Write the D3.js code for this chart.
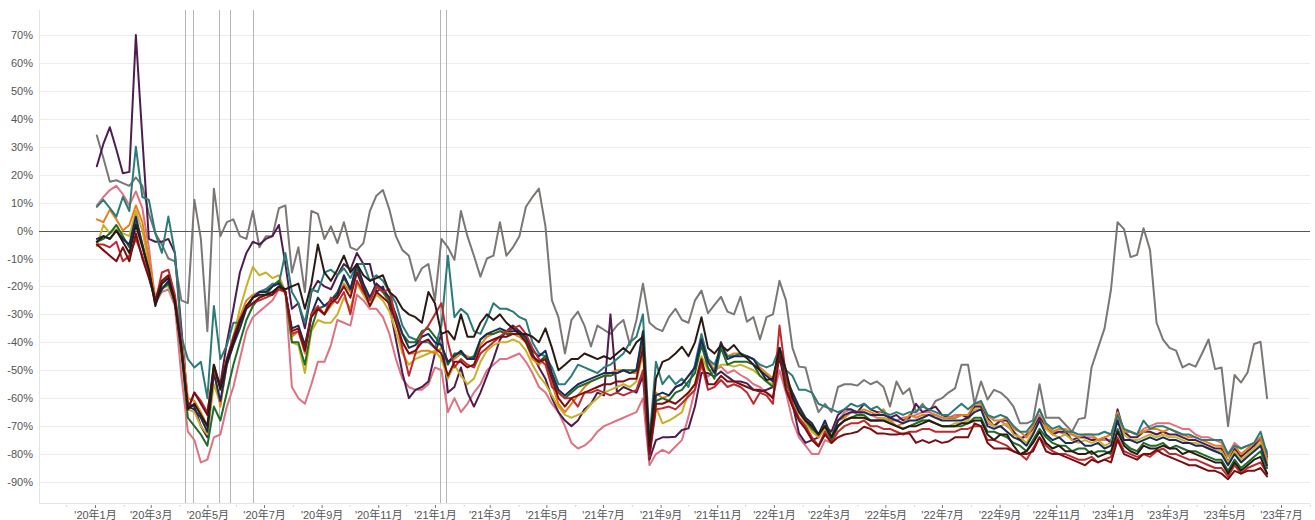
<!doctype html>
<html lang="ja">
<head>
<meta charset="UTF-8">
<title>週次推移</title>
<script src="https://d3js.org/d3.v7.min.js"></script>
<style>
  body { margin: 0; background: #fff; }
  svg { display: block; }
  .axis text { font: 11px "Liberation Sans", Arial, "Noto Sans CJK JP", sans-serif; fill: #555; }
  .grid line { stroke: #ececec; stroke-width: 1; }
  .series { fill: none; stroke-width: 2; stroke-linejoin: round; stroke-linecap: round; }
</style>
</head>
<body>
<svg width="1315" height="520"></svg>
<script>
// weekly values (%), first week starts 2020-01-03
var weekStart = new Date(2020, 0, 3);

var seriesGray = [34, 26, 17.5, 18, 17, 16, 19, 16, 6, -1, -5, -10, -11,
  -25, -26, 11, -3, -36, 15, -2, 3, 4, -2, -3, 7, -6, -2, -2, 8, 9, -15, -6, -22, 7, 6, -3,
  1.5, -4.5, 3, -6, -7, -4.5, 7, 12.5, 14.5, 7.5, -2, -7, -9, -18, -13.5, -12, -25, -3, -6, -10.5, 7, -2, -9, -16.5, -10, -9, 3, -9, -6, -2, 8.5, 12, 15, 1.5, -25, -31, -44, -32, -29, -34, -41.5, -34, -35.5, -37, -34, -32, -41, -32, -19,
  -33, -35, -36, -31, -28, -32, -33, -25, -21.5, -29.6, -26.6, -23.7, -29, -30, -23.7, -32.6, -31, -39, -31, -30, -18, -25,
  -42, -48.7, -49, -58, -65, -62, -65, -56, -55, -55, -55.5, -53.5, -55, -54, -56, -63, -54, -58.5, -56.5, -65, -62, -65, -61, -60, -58, -56.5, -48, -48,
  -62, -54, -60.5, -57, -58, -60, -63, -69, -69, -68, -55, -67, -67, -67, -69.5, -72, -67.5, -67, -49, -42, -35, -21, 3, 0.5, -9.5, -8.7, 0.8, -7, -33, -39, -42, -43, -49, -47.7, -48.7, -44, -39, -49.6, -49, -70, -51.7, -54.4, -50.8, -40.6, -39.8, -60];

var seriesPink = [9, 12, 14.5, 16, 13, 9, 14, 8, -6, -26, -22, -21, -27,
  -52, -72, -75, -83, -82, -74, -73, -63, -56, -46, -36, -31, -29, -27, -25, -21, -22, -56, -60, -62, -55, -47, -47,
  -41, -32, -33, -34, -23, -25, -28, -28, -31, -37, -46, -53, -56, -57, -57, -55, -49, -50, -65, -60, -65, -62, -58, -55, -50, -48, -46, -46, -45, -44, -47, -51, -56, -58, -62, -65, -70, -76, -78, -77, -75, -72, -70, -69, -68, -67, -66, -65, -60,
  -84, -80, -78.5, -79.7, -77.3, -75, -66.6, -57, -48.7, -52.3, -50, -48.7, -51, -50, -51.7, -53, -55, -56, -58, -59.4, -50, -58,
  -68, -74, -77, -80, -80, -75, -76,
  -68, -65, -64, -66, -65, -66, -67, -67, -68, -68, -67, -66.6, -66, -65, -65, -66, -67, -67, -66, -66, -66,
  -63, -63, -69, -70, -68, -70, -72, -74, -74, -71, -66, -71, -72, -72, -73, -73, -74, -74, -74, -75, -75, -75, -67, -72, -72, -73, -71, -70, -69, -69, -69, -70, -71, -71, -73, -74, -74, -75, -76, -80, -76, -78, -77, -77, -75, -79];

var seriesPurple = [23, 31, 37, 29, 20.5, 21, 70, 33, -3, -4, -4, -3, -8,
  -35, -62, -63, -70, -74, -50, -55, -40, -28, -15, -8, -4, -5, -3, -2, 2, -12, -28, -26, -35, -22, -18, -20,
  -21, -16, -12, -14, -8, -12, -12, -22, -20, -27, -39, -51, -60, -57, -56, -54, -44, -37, -58, -56, -49, -58, -63, -58, -52, -46, -39, -36, -34, -36, -39, -44, -49, -53, -60, -65, -68, -70, -68, -64, -62, -58, -59, -30, -58, -56, -57, -58, -52,
  -82, -75, -74, -74, -73.8, -71.4, -70.8, -63, -51, -51, -52.3, -50.5, -52.3, -54, -54, -54.7, -57, -57.6, -57, -56, -44, -55,
  -62, -72.6, -76, -75, -74, -70, -72,
  -66, -64, -64, -65, -62, -64, -65, -65, -67, -66, -68, -67, -62, -65, -64, -63, -66, -67, -67, -66, -67,
  -63, -63, -67, -70, -68, -68, -72, -75, -73, -71, -67, -70, -73, -72, -72, -75, -74, -74, -75, -75, -74, -76, -64, -72, -74, -74, -72, -72, -73, -72, -73, -73, -74, -75, -75, -76, -77, -78, -78, -83, -78, -81, -79, -77, -74, -81];

var seriesYellow = [-5.5, 2, -1, 0.5, -1, -2, 7, 0, -12, -25, -20, -20, -26,
  -40, -64, -65, -70, -73, -55, -62, -48, -38, -28, -20, -13, -16, -15, -17, -16, -22, -40, -41, -51, -36, -32, -33,
  -33, -30, -24, -28, -19, -23, -27, -23, -25, -29, -36, -44, -48, -46, -45, -44, -43, -46, -53, -48, -52, -55, -53, -47, -43, -41, -40, -40, -39, -40, -43, -48, -52, -55, -59, -63, -66, -67, -66, -65, -62, -60, -58, -57, -56, -55, -56, -54, -44,
  -79, -63, -69, -68, -66.6, -65, -58, -55, -45, -50, -50, -48, -48, -48.7, -48, -49, -50, -52, -54, -55, -44, -55,
  -60, -65, -69, -72, -74, -71, -76,
  -70, -68, -67, -67, -67, -68, -68, -67, -69, -70, -71, -70, -69, -68, -68, -69, -70, -70, -69, -69, -68,
  -64, -64, -68, -70, -70, -69, -73, -74, -76, -72, -68, -71, -73, -74, -73, -75, -76, -75, -76, -75, -77, -76, -68, -73, -75, -75, -74, -73, -74, -73, -74, -74, -75, -76, -76, -77, -78, -79, -79, -83, -79, -82, -80, -78, -76, -83];

var seriesOrange = [4, 3, 7.5, 4, 0, 2, 9, 3, -10, -24, -18, -17, -24,
  -38, -60, -61, -65, -70, -50, -63, -47, -38, -31, -25, -23, -22, -21, -20, -18, -22, -38, -36, -44, -30, -28, -30,
  -27, -24, -19, -22, -14, -20, -24, -19, -22, -26, -32, -40, -44, -44, -43, -43, -44, -42, -47, -46, -44, -45, -46, -41, -38, -37, -36, -36, -37, -38, -40, -46, -48, -46, -55, -62, -65, -62, -59, -56, -54, -53, -52, -51, -50, -50, -51, -51, -40,
  -80, -58, -60, -59, -56, -55, -52, -49, -38, -46, -50, -40, -45, -44, -44, -45, -46, -49, -51, -53, -42, -52,
  -58, -63, -67, -70, -74, -69, -74,
  -68, -67, -65, -65, -64, -65, -66, -64, -68, -70, -69, -66, -67, -66, -66, -66, -67, -67, -67, -66, -66,
  -62, -62, -66, -68, -68, -67, -71, -72, -74, -70, -64, -70, -72, -71, -71, -73, -74, -73, -73, -75, -74, -73, -65, -72, -72, -73, -72, -71, -71, -72, -71, -72, -73, -74, -74, -75, -76, -77, -77, -81, -77, -80, -78, -76, -74, -82];

var seriesTeal = [8.5, 11, 8, 5, 12, 7, 30, 12, 11, -1, -8, 5, -8,
  -38, -46, -49, -47, -60, -27, -46, -41, -33, -33, -27, -24, -22, -21, -19, -19, -8, -22, -26, -33, -21, -22, -15,
  -14, -16, -13.5, -17, -12, -12, -18, -16, -18, -22, -26, -34, -38, -39, -40, -40, -42, -34, -9, -31, -28, -30, -36, -37, -32, -26, -28, -28, -29, -31, -32, -40, -44, -45, -49, -55, -55, -52, -48, -49, -50, -51, -49, -48, -46, -44, -40, -38, -30,
  -75, -47, -55, -52, -55, -53, -56, -48, -37, -46, -48, -42, -45, -45, -44, -45, -46, -48, -49, -48, -42, -50,
  -52, -57, -57, -58, -62, -63, -64,
  -65, -64, -62, -63, -62, -64, -63, -65, -66, -65, -66, -65, -65, -63, -64, -65, -66, -66, -64, -62, -64,
  -62, -61, -66, -67, -66, -67, -70, -72, -72, -69, -64, -69, -71, -70, -72, -72, -73, -73, -73, -73, -72, -73, -66, -71, -72, -73, -68, -71, -70, -70, -71, -72, -73, -73, -74, -75, -75, -75, -75, -80, -77, -78, -77, -76, -72, -80];

var seriesGreen = [-4, -3, -1, 2, -2, -6, 3, -5, -14, -26, -21, -19, -25,
  -44, -67, -70, -73, -77, -63, -68, -58, -48, -40, -32, -27, -24, -23, -20, -18, -22, -40, -40, -48, -35, -28, -27,
  -25, -22, -17, -21, -13, -20, -25, -20, -22, -25, -31, -37, -40, -40, -36, -35, -38, -41, -48, -44, -44, -46, -45, -39, -37, -37, -36, -37, -37, -37, -39, -45, -47, -45, -52, -58, -60, -58, -56, -55, -54, -53, -52, -52, -51, -50, -50, -50, -38,
  -80, -61, -60, -61, -58, -57, -54, -51, -41, -49, -53, -42, -48, -47, -47, -47, -48, -52, -54, -56, -44, -55,
  -59, -64, -68, -71, -73, -70, -75,
  -70, -68, -67, -66, -66, -68, -68, -68, -69, -70, -71, -70, -69, -68, -68, -69, -70, -70, -70, -70, -69,
  -67, -67, -72, -72, -73, -74, -76, -77, -79, -75, -71, -74, -76, -77, -77, -79, -78, -78, -80, -79, -79, -80, -71, -76, -78, -79, -76, -77, -77, -76, -78, -77, -78, -79, -79, -80, -81, -82, -82, -86, -82, -85, -83, -81, -79, -85];

var seriesNavy = [-3, -2, -3, 0, -3, -5, 5, -5, -15, -25, -21, -18, -26,
  -42, -63, -64, -67, -72, -51, -61, -48, -41, -35, -28, -24, -22, -22, -20, -19, -22, -35, -34, -41, -30, -24, -27,
  -25, -23, -16, -21, -12, -19, -24, -19, -21, -24, -30, -37, -42, -41, -38, -37, -40, -41, -47, -45, -43, -46, -46, -39, -37, -36, -35, -36, -36, -36, -38, -43, -45, -43, -51, -57, -59, -57, -55, -54, -53, -52, -51, -51, -51, -50, -51, -50, -36,
  -80, -59, -58, -59, -56, -55, -52, -49, -39, -47, -51, -40, -46, -45, -45, -45, -46, -50, -52, -54, -42, -53,
  -58, -63, -67, -69, -73, -68, -74,
  -68, -66, -65, -65, -65, -66, -66, -66, -67, -68, -69, -68, -68, -67, -66, -67, -68, -68, -68, -68, -67,
  -65, -64, -70, -71, -70, -72, -74, -75, -77, -73, -68, -73, -75, -74, -76, -76, -75, -77, -77, -76, -78, -77, -68, -75, -75, -76, -75, -74, -75, -74, -75, -75, -76, -76, -77, -77, -78, -79, -80, -84, -80, -83, -81, -79, -77, -84];

var seriesRed = [-5, -5, -6, -4, -11, -9, -3, -9, -16, -26, -15, -14, -23,
  -40, -64, -58, -61, -65, -50, -56, -46, -38, -32, -27, -26, -25, -24, -23, -21, -22, -37, -36, -43, -30, -27, -30,
  -24, -26, -22, -30, -18, -22, -25, -20, -22, -21, -32, -42, -52, -44, -37, -34, -30, -26, -40, -49, -46, -48, -49, -44, -42, -40, -38, -36, -35, -34, -37, -42, -46, -48, -56, -58, -60, -60, -63, -58, -58, -57, -58, -59, -58, -59, -58, -57, -50,
  -81, -64, -63.6, -63, -64, -61.8, -59.4, -57, -47.5, -57, -56, -53.5, -56, -55, -56, -58, -62, -58, -59, -62, -34, -52,
  -62, -67, -70, -74, -77, -72, -76,
  -72, -70, -69, -69, -68, -70, -70, -71, -71, -72, -73, -72, -72, -71, -71, -72, -72, -72, -72, -71, -71,
  -70, -70, -75, -75, -76, -77, -79, -80, -82, -78, -74, -77, -79, -80, -80, -81, -82, -82, -81, -83, -82, -81, -74, -79, -80, -81, -80, -81, -79, -78, -80, -80, -81, -82, -82, -83, -84, -85, -85, -88, -84, -87, -85, -84, -83, -87];

var seriesMaroon = [-5, -7, -9, -11, -6, -11, -1, -10, -17, -25, -18, -16, -26,
  -42, -64, -58, -62, -66, -48, -56, -46, -39, -32, -28, -26, -24, -23, -23, -20, -22, -36, -35, -43, -31, -28, -30,
  -26, -24, -20, -24, -15, -21, -27, -22, -24, -26, -33, -40, -44, -43, -40, -39, -42, -44, -52, -47, -47, -49, -48, -42, -40, -39, -38, -38, -37, -37, -40, -45, -47, -46, -53, -60, -63, -60, -59, -58, -57, -56, -55, -55, -54, -54, -53, -53, -42,
  -80, -62, -62, -61, -62, -60, -58, -55, -46, -55, -55, -52, -54, -54, -55, -56, -57, -57, -58, -60, -45, -57,
  -63, -68, -71, -75, -77.3, -73, -76,
  -74, -73, -72.6, -72, -70.2, -71, -72.6, -72.6, -73, -73, -72.6, -72.6, -76, -75, -76, -75, -76, -75.5, -74, -74, -74,
  -69, -70, -76, -78, -78, -78, -79, -80, -80, -79, -74, -79, -80, -80, -81, -82, -83, -84, -82, -83, -82, -83, -75, -80, -81, -82, -80, -80, -78.5, -80, -81, -82, -83, -84, -84, -85, -86, -86, -87, -89, -86, -87, -86, -86, -85, -88];

var seriesBlack = [-4, -2, -3, 0, -4, -8, 2, -6, -14, -27, -19, -17, -25,
  -42, -64, -62, -66, -70, -48, -57, -47, -40, -33, -27, -24, -23, -23, -22, -20, -21, -20, -19, -28, -19, -5, -15,
  -18, -14, -9, -15, -12, -16, -18, -17, -16, -22, -24, -28, -30, -31, -33, -22, -26, -37, -36, -39, -30, -38, -38, -33, -30, -32, -30, -33, -35, -37, -37, -38, -40, -35, -42, -50, -48, -46, -46, -44, -45, -46, -45, -46, -44, -42, -44, -40, -38,
  -77, -53, -47, -46, -44, -41.6, -45, -40, -31, -42, -44, -41, -43, -41, -44, -45.7, -48, -50, -53.5, -53, -42, -50,
  -60, -65, -68, -70, -73, -70, -74,
  -70, -68, -67, -67, -67, -68, -68, -68, -69, -70, -71, -70, -70, -69, -68, -69, -70, -70, -70, -69, -69,
  -68, -68, -73, -75, -73, -73, -77, -80, -79, -76, -72, -76, -78, -77, -79, -79, -80, -80, -79, -81, -80, -79, -72, -77, -79, -80, -77, -78, -78, -77, -78, -78, -80, -79, -80, -81, -82, -83, -83, -87, -83, -86, -84, -82, -81, -87];

var seriesList = [
  { name: "gray", color: "#7b7775", values: seriesGray },
  { name: "pink", color: "#de7282", values: seriesPink },
  { name: "purple", color: "#4f1d4d", values: seriesPurple },
  { name: "yellow", color: "#c8b128", values: seriesYellow },
  { name: "orange", color: "#e5801c", values: seriesOrange },
  { name: "teal", color: "#2b7c78", values: seriesTeal },
  { name: "green", color: "#1f6b28", values: seriesGreen },
  { name: "navy", color: "#1b2c5c", values: seriesNavy },
  { name: "red", color: "#bf2a2e", values: seriesRed },
  { name: "maroon", color: "#7a0f12", values: seriesMaroon },
  { name: "black", color: "#2b1a14", values: seriesBlack }
];

// state of emergency related dates
var eventDates = ["2020-04-07", "2020-04-16", "2020-05-14", "2020-05-25", "2020-06-19", "2021-01-07", "2021-01-13"];

var yTicks = [70, 60, 50, 40, 30, 20, 10, 0, -10, -20, -30, -40, -50, -60, -70, -80, -90];

var svg = d3.select("svg"),
    plotLeft = 39,
    plotRight = 1310,
    plotTop = 10,
    plotBottom = 503;

var parseDay = d3.timeParse("%Y-%m-%d");

var x = d3.scaleTime()
    .domain([new Date(2020, 0, 1), new Date(2023, 6, 1)])
    .range([95, 1281]);

var y = d3.scaleLinear()
    .domain([-90, 70])
    .range([482, 35]);

// grid
svg.append("g")
    .attr("class", "grid")
    .selectAll("line")
    .data(yTicks)
    .enter().append("line")
    .attr("x1", plotLeft)
    .attr("x2", plotRight)
    .attr("y1", function (d) { return Math.round(y(d)) + 0.5; })
    .attr("y2", function (d) { return Math.round(y(d)) + 0.5; });

// frame (left + bottom)
svg.append("line")
    .attr("x1", plotLeft + 0.5).attr("x2", plotLeft + 0.5)
    .attr("y1", plotTop).attr("y2", plotBottom)
    .attr("stroke", "#e4e4e4");
svg.append("line")
    .attr("x1", plotLeft).attr("x2", plotRight)
    .attr("y1", plotBottom + 0.5).attr("y2", plotBottom + 0.5)
    .attr("stroke", "#e4e4e4");

// event lines
svg.append("g")
    .selectAll("line")
    .data(eventDates)
    .enter().append("line")
    .attr("x1", function (d) { return Math.round(x(parseDay(d))) + 0.5; })
    .attr("x2", function (d) { return Math.round(x(parseDay(d))) + 0.5; })
    .attr("y1", plotTop)
    .attr("y2", plotBottom)
    .attr("stroke", "#b5b5b5")
    .attr("stroke-width", 1);

// zero line
svg.append("line")
    .attr("x1", plotLeft)
    .attr("x2", plotRight)
    .attr("y1", Math.round(y(0)) + 0.5)
    .attr("y2", Math.round(y(0)) + 0.5)
    .attr("stroke", "#555")
    .attr("stroke-width", 1);

// y axis
var yAxis = svg.append("g")
    .attr("class", "axis")
    .attr("transform", "translate(" + plotLeft + ",0)")
    .call(d3.axisLeft(y).tickValues(yTicks).tickSize(0).tickPadding(6)
        .tickFormat(function (d) { return d + "%"; }));
yAxis.select(".domain").remove();

// x axis, ticks every month, labels every other month
var months = d3.timeMonth.range(new Date(2019, 11, 1), new Date(2023, 7, 2));
var xAxis = svg.append("g")
    .attr("class", "axis")
    .attr("transform", "translate(0," + plotBottom + ")")
    .call(d3.axisBottom(x).tickValues(months).tickSize(3).tickSizeOuter(0).tickPadding(5)
        .tickFormat(function (d) {
          if (d.getMonth() % 2 !== 0) return "";
          return "'" + String(d.getFullYear()).slice(2) + "年" + (d.getMonth() + 1) + "月";
        }));
xAxis.select(".domain").remove();
xAxis.selectAll(".tick line")
    .attr("stroke", function (d) { return d.getMonth() % 2 === 0 ? "#777" : "#c4c4c4"; })
    .attr("y1", 2)
    .attr("y2", function (d) { return d.getMonth() % 2 === 0 ? 5 : 3.5; });

// series
var line = d3.line()
    .x(function (d, i) { return x(d3.timeDay.offset(weekStart, 7 * i)); })
    .y(function (d) { return y(d); });

svg.append("g")
    .selectAll("path")
    .data(seriesList)
    .enter().append("path")
    .attr("class", "series")
    .attr("stroke", function (d) { return d.color; })
    .attr("d", function (d) { return line(d.values); });

</script>
</body>
</html>
